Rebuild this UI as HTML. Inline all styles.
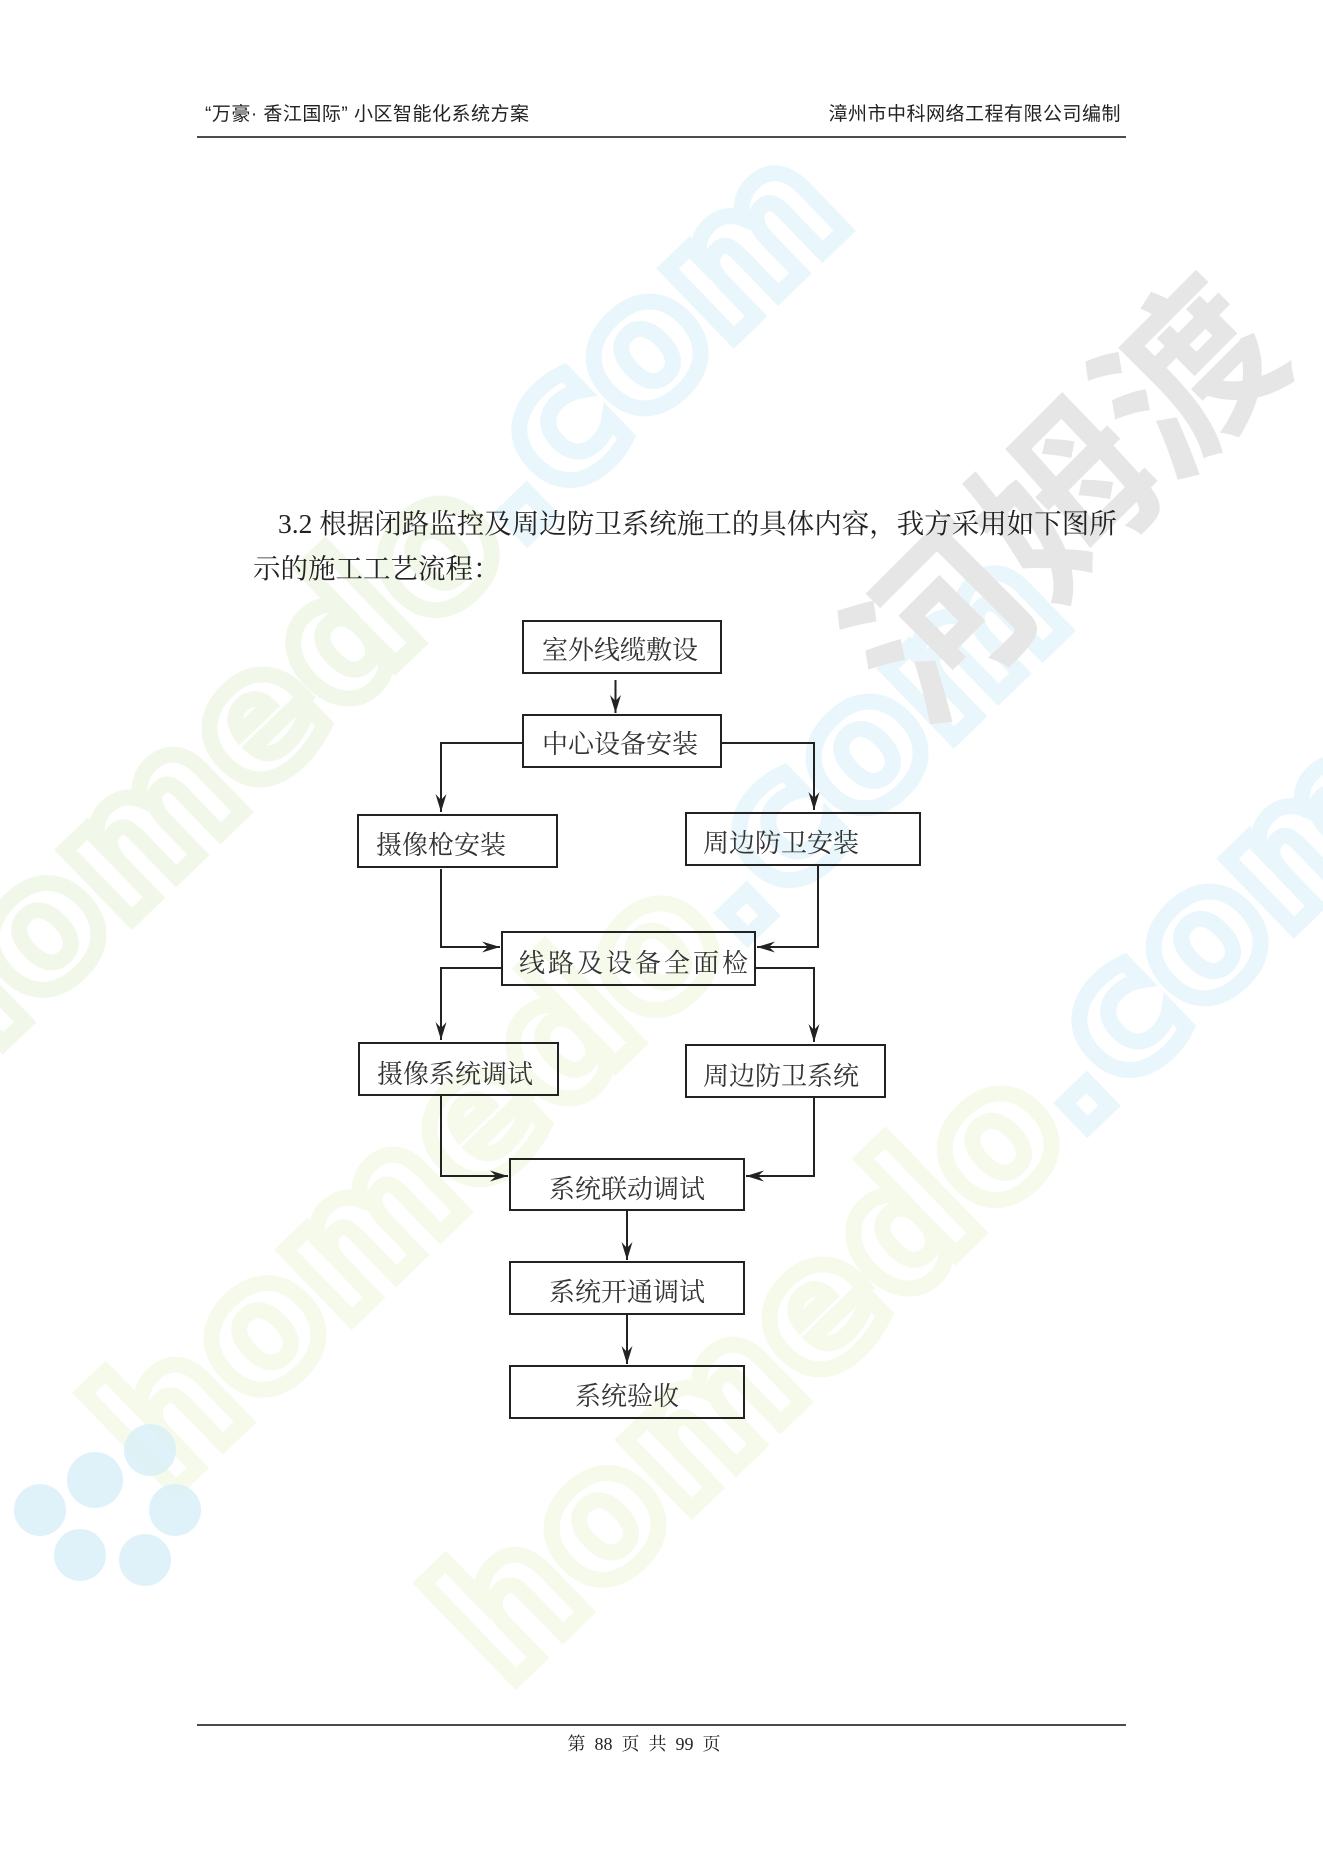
<!DOCTYPE html>
<html><head><meta charset="utf-8"><style>
html,body{margin:0;padding:0;background:#fff;}
svg{display:block;}
.s{font-family:"Liberation Serif","Noto Serif CJK SC",serif;}
.h{font-family:"Liberation Sans","Noto Sans CJK SC",sans-serif;}
</style></head><body>
<svg width="1323" height="1871" viewBox="0 0 1323 1871" xmlns="http://www.w3.org/2000/svg">
<rect width="1323" height="1871" fill="#fff"/>
<!-- watermarks -->
<g font-family="DejaVu Sans, sans-serif" font-weight="bold" font-size="175" text-anchor="middle" fill="none" stroke-width="16" opacity="0.55">
<text transform="translate(400,660) rotate(-44)" stroke="#e8f4d8">homedo<tspan stroke="#d8f1fa">.com</tspan></text>
<text transform="translate(620,1060) rotate(-44)" stroke="#eef6dc">homedo<tspan stroke="#d8f1fa">.com</tspan></text>
<text transform="translate(960,1250) rotate(-44)" stroke="#eef6dc">homedo<tspan stroke="#d8f1fa">.com</tspan></text>
</g>
<text transform="translate(1110,545) rotate(-45)" font-family="Noto Sans CJK SC, sans-serif" font-weight="bold" font-size="175" fill="#e6e6e6" text-anchor="middle">河姆渡</text>
<g fill="#d9f0f8" opacity="0.8">
<circle cx="95" cy="1480" r="28"/><circle cx="150" cy="1450" r="26"/><circle cx="175" cy="1510" r="26"/><circle cx="40" cy="1510" r="26"/><circle cx="80" cy="1555" r="26"/><circle cx="145" cy="1560" r="26"/>
</g>
<!-- header -->
<text x="205" y="120" class="h" font-size="19" fill="#222" letter-spacing="0.5">“万豪· 香江国际” 小区智能化系统方案</text>
<text x="1121" y="120" class="h" font-size="19" fill="#222" text-anchor="end" letter-spacing="0.5">漳州市中科网络工程有限公司编制</text>
<line x1="197" y1="137" x2="1126" y2="137" stroke="#111" stroke-width="1.5"/>
<!-- paragraph -->
<text x="278" y="533" class="s" font-size="27.5" fill="#222">3.2 根据闭路监控及周边防卫系统施工的具体内容，我方采用如下图所</text>
<text x="253" y="578" class="s" font-size="27.5" fill="#222">示的施工工艺流程：</text>
<!-- flowchart -->
<g fill="none" stroke="#222" stroke-width="2">
<rect x="523" y="621" width="198" height="52"/>
<rect x="523" y="715" width="198" height="52"/>
<rect x="358" y="815" width="199" height="52"/>
<rect x="686" y="813" width="234" height="52"/>
<rect x="502" y="932" width="253" height="53"/>
<rect x="359" y="1043" width="199" height="52"/>
<rect x="686" y="1045" width="199" height="52"/>
<rect x="510" y="1159" width="234" height="51"/>
<rect x="510" y="1262" width="234" height="52"/>
<rect x="510" y="1366" width="234" height="52"/>
<path d="M615.5 680 V713"/>
<path d="M523 743 H441 V812"/>
<path d="M721 743 H814 V810"/>
<path d="M441 869 V947 H500"/>
<path d="M818 865 V947 H757"/>
<path d="M502 968 H441 V1040"/>
<path d="M755 968 H814 V1042"/>
<path d="M441 1095 V1176 H508"/>
<path d="M814 1097 V1176 H746"/>
<path d="M627 1210 V1260"/>
<path d="M627 1314 V1364"/>
</g>
<g fill="#222">
<path d="M615.5 713 L610 695 L615.5 701 L621 695Z"/>
<path d="M441 812 L435.5 794 L441 800 L446.5 794Z"/>
<path d="M814 810 L808.5 792 L814 798 L819.5 792Z"/>
<path d="M500 947 L482 941.5 L488 947 L482 952.5Z"/>
<path d="M757 947 L775 941.5 L769 947 L775 952.5Z"/>
<path d="M441 1040 L435.5 1022 L441 1028 L446.5 1022Z"/>
<path d="M814 1042 L808.5 1024 L814 1030 L819.5 1024Z"/>
<path d="M508 1176 L490 1170.5 L496 1176 L490 1181.5Z"/>
<path d="M746 1176 L764 1170.5 L758 1176 L764 1181.5Z"/>
<path d="M627 1260 L621.5 1242 L627 1248 L632.5 1242Z"/>
<path d="M627 1364 L621.5 1346 L627 1352 L632.5 1346Z"/>
</g>
<g class="s" font-size="26" fill="#333">
<text x="620" y="659" text-anchor="middle">室外线缆敷设</text>
<text x="620" y="753" text-anchor="middle">中心设备安装</text>
<text x="376" y="854">摄像枪安装</text>
<text x="703" y="852">周边防卫安装</text>
<text x="519" y="972" letter-spacing="3">线路及设备全面检</text>
<text x="377" y="1083">摄像系统调试</text>
<text x="703" y="1085">周边防卫系统</text>
<text x="627" y="1198" text-anchor="middle">系统联动调试</text>
<text x="627" y="1301" text-anchor="middle">系统开通调试</text>
<text x="627" y="1405" text-anchor="middle">系统验收</text>
</g>
<!-- footer -->
<line x1="197" y1="1725" x2="1126" y2="1725" stroke="#111" stroke-width="1.5"/>
<text x="644" y="1750" class="s" font-size="18" fill="#222" text-anchor="middle" xml:space="preserve">第  88  页  共  99  页</text>
</svg>
</body></html>
